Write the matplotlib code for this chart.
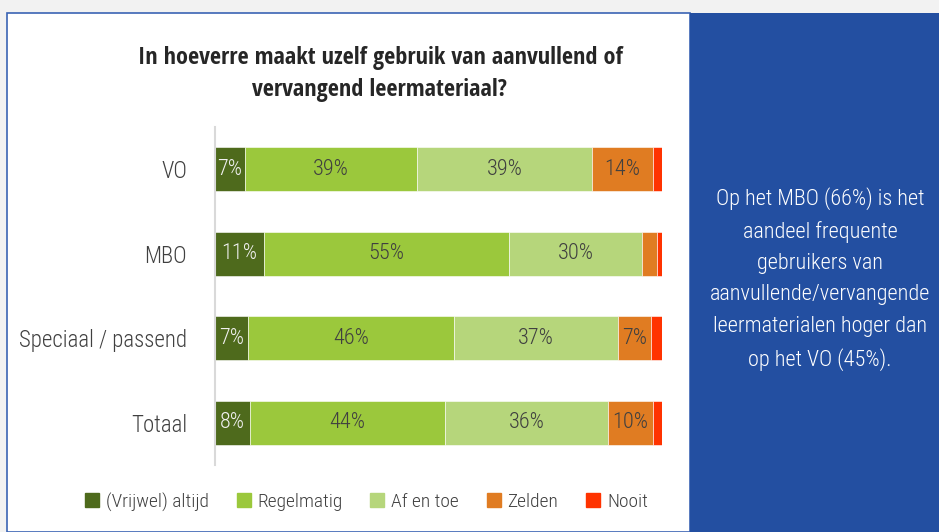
import numpy as np
import matplotlib.pyplot as plt
from matplotlib import font_manager
from matplotlib.patches import Rectangle
from matplotlib.lines import Line2D

# pick narrow fonts if available (light/regular for body, bold for title)
entries = font_manager.fontManager.ttflist
cands = ['Open Sans Condensed', 'Roboto Condensed', 'Liberation Sans Narrow', 'Open Sans', 'Roboto']


def pick(bold):
    for cand in cands:
        for f in entries:
            w = f.weight if isinstance(f.weight, int) else 400
            if f.name == cand and ((w >= 600) == bold):
                return cand
    return 'DejaVu Sans'


body_font = pick(False)
title_font = pick(True)
body_weight = 'normal'
for f in entries:
    if f.name == body_font and f.weight in (300, 'light'):
        body_weight = 'light'
plt.rcParams['font.family'] = [body_font, 'DejaVu Sans']
plt.rcParams['font.weight'] = body_weight

categories = ['VO', 'MBO', 'Speciaal / passend', 'Totaal']
series = ['(Vrijwel) altijd', 'Regelmatig', 'Af en toe', 'Zelden', 'Nooit']
altijd = [6.6, 11.0, 7.4, 7.8]
regelmatig = [38.6, 54.8, 46.1, 43.6]
af_en_toe = [39.2, 29.8, 36.7, 36.5]
zelden = [13.6, 3.3, 7.4, 10.1]
nooit = [2.0, 1.1, 2.4, 2.0]
values = [altijd, regelmatig, af_en_toe, zelden, nooit]
colors = ['#4E6A1C', '#9BC83C', '#B6D67B', '#E07C22', '#FF3300']
text_colors = ['#F0F0F0', '#404040', '#404040', '#404040', '#404040']

title = 'In hoeverre maakt uzelf gebruik van aanvullend of\nvervangend leermateriaal?'
note = ('Op het MBO (66%) is het\naandeel frequente\ngebruikers van\n'
        'aanvullende/vervangende\nleermaterialen hoger dan\nop het VO (45%).')

fig = plt.figure(figsize=(9.39, 5.32), dpi=100)
fig.patch.set_facecolor('#F2F2F2')

# white panel and blue side panel
fig.patches.append(Rectangle((7 / 939, 0), 683 / 939, 519 / 532, transform=fig.transFigure,
                             facecolor='white', edgecolor='#3B64B4', linewidth=1.2, zorder=-2))
fig.patches.append(Rectangle((690 / 939, 0), 249 / 939, 519 / 532, transform=fig.transFigure,
                             facecolor='#234FA1', edgecolor='none', zorder=-2))

ax = fig.add_axes([215 / 939, 1 - 465 / 532, 447 / 939, 338 / 532])
ax.set_facecolor('none')
y = np.arange(len(categories))
left = np.zeros(len(categories))
for vals, col, tcol in zip(values, colors, text_colors):
    vals = np.array(vals)
    ax.barh(y, vals, left=left, height=0.52, color=col, edgecolor='white', linewidth=0.4)
    for yi, l, v in zip(y, left, vals):
        if v >= 5:
            ax.text(l + v / 2, yi, f'{v:.0f}%', ha='center', va='center',
                    fontsize=16, color=tcol)
    left += vals

ax.set_xlim(0, 100)
ax.set_ylim(len(categories) - 0.5, -0.5)
ax.set_yticks(y)
ax.set_yticklabels(categories, fontsize=16.5, color='#404040')
ax.tick_params(axis='y', length=0, pad=20)
ax.set_xticks([])
for s in ['top', 'right', 'bottom']:
    ax.spines[s].set_visible(False)
ax.spines['left'].set_color('#D9D9D9')
ax.spines['left'].set_linewidth(1.5)

fig.text(380 / 939, 1 - 74 / 532, title, ha='center', va='center', fontsize=17.5,
         fontweight='bold', family=[title_font, 'DejaVu Sans'], color='#262626',
         linespacing=1.45)

fig.text(820 / 939, 1 - 279 / 532, note, ha='center', va='center', fontsize=16,
         color='white', linespacing=1.64)

handles = [Line2D([], [], marker='s', linestyle='none', markersize=10,
                  markerfacecolor=c, markeredgecolor=c) for c in colors]
fig.legend(handles, series, loc='center', bbox_to_anchor=(365 / 939, 1 - 502 / 532),
           ncol=5, frameon=False, fontsize=14, handletextpad=0.2, handlelength=1.0,
           columnspacing=1.3, labelcolor='#404040')

fig.savefig('out.png', dpi=100, facecolor=fig.get_facecolor())
